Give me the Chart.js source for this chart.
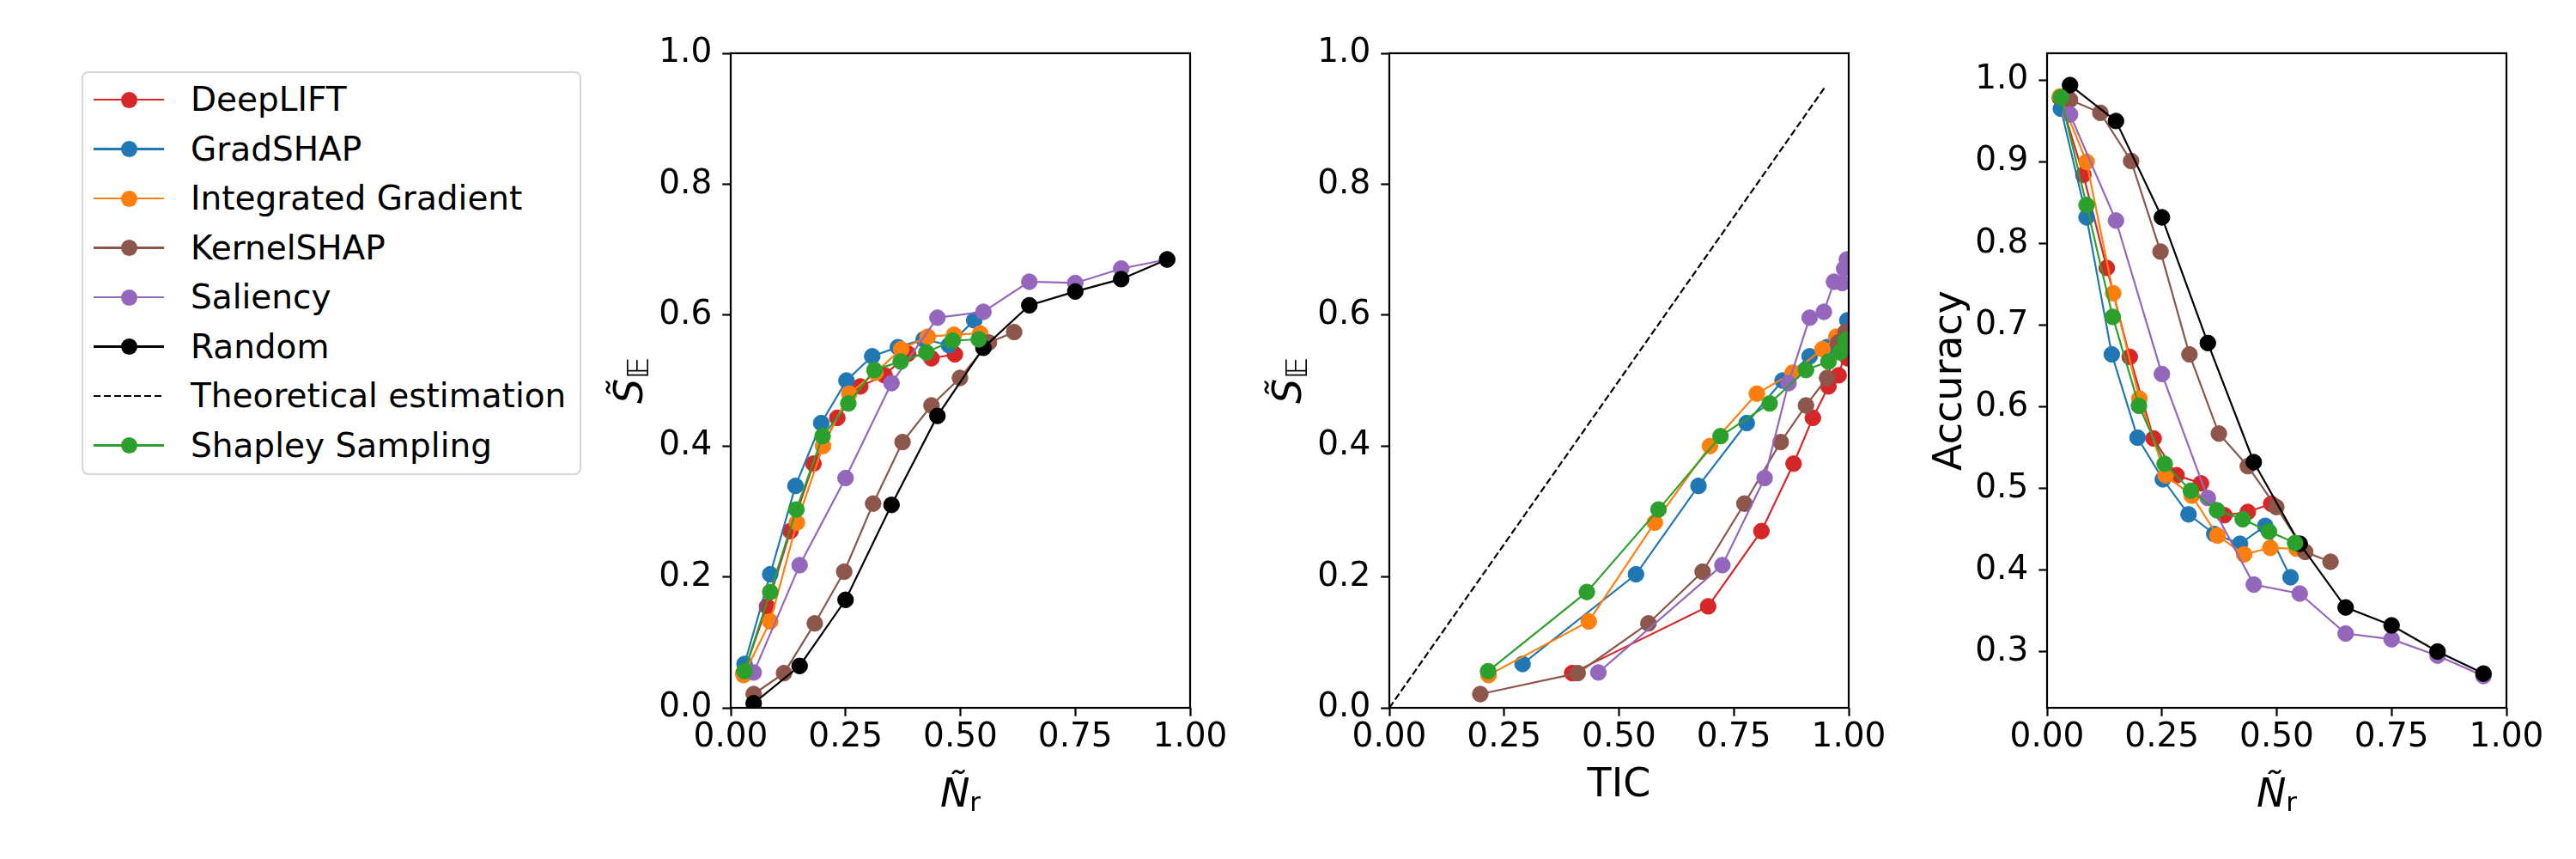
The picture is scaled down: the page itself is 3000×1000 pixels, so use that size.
<!DOCTYPE html>
<html>
<head>
<meta charset="utf-8">
<script src="https://cdn.jsdelivr.net/npm/chart.js@4.4.1/dist/chart.umd.min.js"></script>
<style>
    html, body { margin: 0; padding: 0; background: #fff; }
    #stage { position: relative; width: 3000px; height: 1000px; overflow: hidden; font-family: "DejaVu Sans", sans-serif; }
    #stage canvas { position: absolute; top: 0; }
    #legend { position: absolute; left: 95px; top: 83px; width: 582px; height: 470px; box-sizing: border-box;
              border: 2.5px solid #d6d6d6; border-radius: 8px; background: rgba(255,255,255,0.8); }
    .row { position: absolute; left: 0; height: 0; }
    .handle { position: absolute; left: 12px; width: 82px; height: 2.2px; top: -1.1px; }
    .dot { position: absolute; left: 43.5px; top: -9.5px; width: 19px; height: 19px; border-radius: 50%; }
    .label { position: absolute; left: 125px; top: -23px; font-size: 39px; line-height: 46px; white-space: nowrap; color: #000; }
</style>
</head>
<body>
<div id="stage">
    <div id="legend"></div>
    <canvas id="panelNr" width="785" height="1000" style="left:681px"></canvas>
    <canvas id="panelTic" width="785" height="1000" style="left:1448px"></canvas>
    <canvas id="panelAcc" width="785" height="1000" style="left:2214px"></canvas>
</div>
<script>
// ---- data ----
const deepliftNr  = [0.028, 0.079, 0.130, 0.180, 0.232, 0.282, 0.335, 0.386, 0.437, 0.488];
const deepliftS   = [0.053, 0.155, 0.270, 0.373, 0.443, 0.491, 0.508, 0.541, 0.534, 0.540];
const deepliftTic = [0.398, 0.694, 0.810, 0.880, 0.922, 0.956, 0.978, 0.992, 0.998, 1.004];
const deepliftAcc = [0.978, 0.884, 0.770, 0.661, 0.561, 0.516, 0.506, 0.467, 0.471, 0.481];

const gradshapNr  = [0.030, 0.086, 0.141, 0.197, 0.252, 0.308, 0.364, 0.420, 0.475, 0.530];
const gradshapS   = [0.067, 0.204, 0.339, 0.435, 0.500, 0.537, 0.551, 0.563, 0.554, 0.592];
const gradshapTic = [0.290, 0.537, 0.673, 0.778, 0.856, 0.915, 0.953, 0.976, 0.989, 0.997];
const gradshapAcc = [0.965, 0.832, 0.664, 0.562, 0.511, 0.468, 0.444, 0.432, 0.454, 0.391];

const igNr  = [0.028, 0.086, 0.144, 0.201, 0.258, 0.315, 0.371, 0.429, 0.486, 0.543];
const igS   = [0.050, 0.132, 0.283, 0.400, 0.480, 0.512, 0.548, 0.567, 0.570, 0.572];
const igTic = [0.216, 0.434, 0.578, 0.698, 0.800, 0.878, 0.943, 0.973, 0.990, 0.998];
const igAcc = [0.980, 0.900, 0.739, 0.610, 0.516, 0.491, 0.442, 0.419, 0.427, 0.426];

const kernelNr  = [0.050, 0.116, 0.183, 0.247, 0.310, 0.374, 0.437, 0.499, 0.562, 0.617];
const kernelS   = [0.021, 0.053, 0.129, 0.208, 0.312, 0.406, 0.462, 0.504, 0.558, 0.574];
const kernelTic = [0.198, 0.410, 0.564, 0.682, 0.773, 0.852, 0.907, 0.953, 0.977, 0.993];
const kernelAcc = [0.976, 0.960, 0.901, 0.790, 0.664, 0.567, 0.527, 0.477, 0.422, 0.410];

const saliencyNr  = [0.05, 0.15, 0.25, 0.35, 0.45, 0.55, 0.65, 0.75, 0.85, 0.95];
const saliencyS   = [0.054, 0.218, 0.351, 0.496, 0.596, 0.605, 0.651, 0.649, 0.671, 0.685];
const saliencyTic = [0.455, 0.725, 0.817, 0.869, 0.915, 0.946, 0.968, 0.986, 0.990, 0.996];
const saliencyAcc = [0.958, 0.828, 0.640, 0.488, 0.382, 0.371, 0.322, 0.315, 0.295, 0.270];

const randomNr  = [0.05, 0.15, 0.25, 0.35, 0.45, 0.55, 0.65, 0.75, 0.85, 0.95];
const randomS   = [0.007, 0.064, 0.165, 0.310, 0.446, 0.550, 0.615, 0.636, 0.655, 0.685];
const randomAcc = [0.994, 0.950, 0.832, 0.678, 0.532, 0.432, 0.354, 0.332, 0.300, 0.273];

const shapleyNr  = [0.030, 0.086, 0.143, 0.200, 0.256, 0.313, 0.370, 0.426, 0.483, 0.540];
const shapleyS   = [0.056, 0.177, 0.303, 0.415, 0.465, 0.516, 0.529, 0.543, 0.561, 0.563];
const shapleyTic = [0.215, 0.430, 0.586, 0.721, 0.828, 0.907, 0.956, 0.981, 0.993, 0.999];
const shapleyAcc = [0.979, 0.847, 0.710, 0.601, 0.530, 0.497, 0.473, 0.462, 0.447, 0.433];

const theoryTic = [0, 0.95];
const theoryS   = [0, 0.95];

const unitTicks     = [0, 0.25, 0.5, 0.75, 1];
const unitTickText  = ['0.00', '0.25', '0.50', '0.75', '1.00'];
const sTicks        = [0, 0.2, 0.4, 0.6, 0.8, 1];
const sTickText     = ['0.0', '0.2', '0.4', '0.6', '0.8', '1.0'];
const accTicks      = [0.3, 0.4, 0.5, 0.6, 0.7, 0.8, 0.9, 1.0];
const accTickText   = ['0.3', '0.4', '0.5', '0.6', '0.7', '0.8', '0.9', '1.0'];
const accRange      = [0.231, 1.033];

const legendNames  = ['DeepLIFT', 'GradSHAP', 'Integrated Gradient', 'KernelSHAP', 'Saliency', 'Random', 'Theoretical estimation', 'Shapley Sampling'];
const legendColors = ['#d62728', '#1f77b4', '#ff7f0e', '#8c564b', '#9467bd', '#000000', '#000000', '#2ca02c'];

// ---- look ----
const FONT = '"DejaVu Sans", sans-serif';
const LINE_W = 2.2;

function series(idx, xs, ys, dashed) {
    const color = legendColors[idx];
    return {
        label: legendNames[idx],
        data: xs.map((x, i) => ({ x, y: ys[i] })),
        showLine: true,
        borderColor: color,
        backgroundColor: color,
        borderWidth: LINE_W,
        borderDash: dashed ? [8.2, 3.6] : [],
        pointRadius: dashed ? 0 : 9.2,
        pointBorderWidth: 1,
        pointBackgroundColor: color,
        pointBorderColor: color,
        clip: 0,
        order: 20 - idx,   // later series on top, like matplotlib
    };
}

function axis(min, max, ticks, text, isX) {
    return {
        type: 'linear', min, max,
        afterBuildTicks: s => { s.ticks = ticks.map(v => ({ value: v })); },
        afterFit: s => { if (isX) s.height = 176; else s.width = 170; },
        ticks: {
            callback: v => text[ticks.indexOf(v)],
            font: { family: FONT, size: 39 }, color: '#000',
            padding: isX ? 2 : 12, maxRotation: 0, autoSkip: false,
        },
        grid: { display: true, drawOnChartArea: false, drawTicks: true, tickLength: 9.7,
                tickWidth: LINE_W, tickColor: '#000', color: '#000' },
        border: { display: false },
    };
}

// box round the plot area, drawn over the marks
const frame = {
    id: 'frame',
    afterDatasetsDraw(chart) {
        const { ctx, chartArea: a } = chart;
        ctx.save();
        ctx.strokeStyle = '#000';
        ctx.lineWidth = LINE_W;
        ctx.strokeRect(a.left, a.top, a.right - a.left, a.bottom - a.top);
        ctx.restore();
    }
};

function drawParts(ctx, parts, x, y, rotate) {
    ctx.save();
    ctx.translate(x, y);
    if (rotate) ctx.rotate(-Math.PI / 2);
    ctx.fillStyle = '#000';
    ctx.textBaseline = 'alphabetic';
    ctx.textAlign = 'left';
    let w = 0;
    parts.forEach(p => { ctx.font = p.font; p.w = ctx.measureText(p.text).width; w += p.w; });
    let cx = -w / 2;
    parts.forEach(p => { ctx.font = p.font; ctx.fillText(p.text, cx, p.dy); cx += p.w; });
    ctx.restore();
}

const titleNr  = [{ text: 'N\u0303', font: 'italic 46px ' + FONT, dy: 0 }, { text: 'r', font: '31px ' + FONT, dy: 5 }];
const titleS   = [{ text: 'S\u0303', font: 'italic 46px ' + FONT, dy: 0 }, { text: '\u{1D53C}', font: '34px ' + FONT, dy: 7 }];
const titleTic = [{ text: 'TIC', font: '46px ' + FONT, dy: 0 }];
const titleAcc = [{ text: 'Accuracy', font: '46px ' + FONT, dy: 0 }];

const axisTitles = {
    id: 'axisTitles',
    afterDraw(chart, args, opts) {
        const { ctx, chartArea: a } = chart;
        drawParts(ctx, opts.x, (a.left + a.right) / 2, a.bottom + opts.xBase, false);
        drawParts(ctx, opts.y, a.left - opts.yBase, (a.top + a.bottom) / 2, true);
    }
};

function makePanel(id, datasets, xAxis, yAxis, titles) {
    return new Chart(document.getElementById(id), {
        type: 'scatter',
        data: { datasets },
        options: {
            responsive: false, animation: false, devicePixelRatio: 1, events: [],
            layout: { padding: { top: 62, right: 80, left: 0, bottom: 0 } },
            scales: { x: xAxis, y: yAxis },
            plugins: { legend: { display: false }, tooltip: { enabled: false }, axisTitles: titles },
        },
        plugins: [frame, axisTitles],
    });
}

makePanel('panelNr', [
    series(0, deepliftNr, deepliftS),
    series(1, gradshapNr, gradshapS),
    series(2, igNr, igS),
    series(3, kernelNr, kernelS),
    series(4, saliencyNr, saliencyS),
    series(5, randomNr, randomS),
    series(7, shapleyNr, shapleyS),
], axis(0, 1, unitTicks, unitTickText, true), axis(0, 1, sTicks, sTickText, false),
   { x: titleNr, xBase: 115, y: titleS, yBase: 103 });

makePanel('panelTic', [
    series(0, deepliftTic, deepliftS),
    series(1, gradshapTic, gradshapS),
    series(2, igTic, igS),
    series(3, kernelTic, kernelS),
    series(4, saliencyTic, saliencyS),
    series(6, theoryTic, theoryS, true),
    series(7, shapleyTic, shapleyS),
], axis(0, 1, unitTicks, unitTickText, true), axis(0, 1, sTicks, sTickText, false),
   { x: titleTic, xBase: 103, y: titleS, yBase: 103 });

makePanel('panelAcc', [
    series(0, deepliftNr, deepliftAcc),
    series(1, gradshapNr, gradshapAcc),
    series(2, igNr, igAcc),
    series(3, kernelNr, kernelAcc),
    series(4, saliencyNr, saliencyAcc),
    series(5, randomNr, randomAcc),
    series(7, shapleyNr, shapleyAcc),
], axis(0, 1, unitTicks, unitTickText, true), axis(accRange[0], accRange[1], accTicks, accTickText, false),
   { x: titleNr, xBase: 115, y: titleAcc, yBase: 100 });

// legend box, built from the same names and colours
const legend = document.getElementById('legend');
legend.innerHTML = legendNames.map((name, i) => {
    const c = legendColors[i];
    const dashed = name === 'Theoretical estimation';
    const line = dashed
        ? `background: repeating-linear-gradient(to right, ${c} 0 8.2px, transparent 8.2px 11.8px)`
        : `background: ${c}`;
    return `
    <div class="row" style="top:${31 + i * 57.5}px">
        <div class="handle" style="${line}"></div>
        ${dashed ? '' : `<div class="dot" style="background:${c}"></div>`}
        <div class="label">${name}</div>
    </div>`;
}).join('');
</script>
</body>
</html>
